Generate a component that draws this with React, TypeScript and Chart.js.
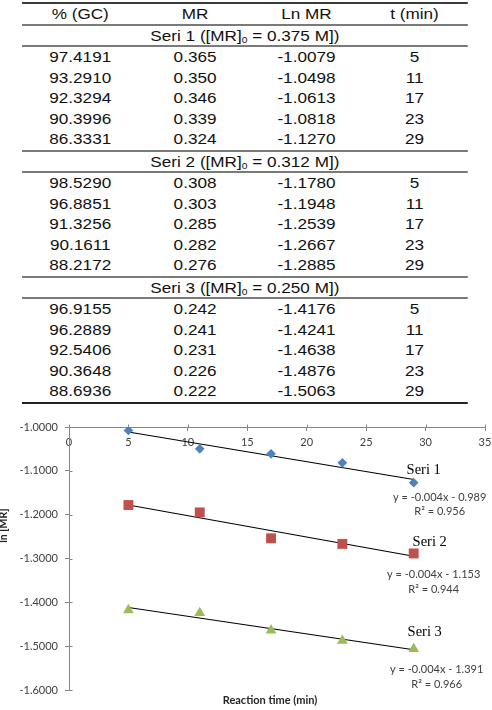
import React, { useEffect, useRef } from "react";
import { Chart, registerables } from "chart.js";

Chart.register(...registerables);

// Reaction times (min) shared by every series
const times = [5, 11, 17, 23, 29];

// Seri 1, [MR]0 = 0.375 M
const gc1 = [97.4191, 93.291, 92.3294, 90.3996, 86.3331];
const mr1 = [0.365, 0.35, 0.346, 0.339, 0.324];
const ln1 = [-1.0079, -1.0498, -1.0613, -1.0818, -1.127];

// Seri 2, [MR]0 = 0.312 M
const gc2 = [98.529, 96.8851, 91.3256, 90.1611, 88.2172];
const mr2 = [0.308, 0.303, 0.285, 0.282, 0.276];
const ln2 = [-1.178, -1.1948, -1.2539, -1.2667, -1.2885];

// Seri 3, [MR]0 = 0.250 M
const gc3 = [96.9155, 96.2889, 92.5406, 90.3648, 88.6936];
const mr3 = [0.242, 0.241, 0.231, 0.226, 0.222];
const ln3 = [-1.4176, -1.4241, -1.4638, -1.4876, -1.5063];

const seriesNames = ["Seri 1", "Seri 2", "Seri 3"];
const initialConc = ["0.375", "0.312", "0.250"];
const equationLabels = ["y = -0.004x - 0.989", "y = -0.004x - 1.153", "y = -0.004x - 1.391"];
const r2Labels = ["R\u00b2 = 0.956", "R\u00b2 = 0.944", "R\u00b2 = 0.966"];

const headers = ["% (GC)", "MR", "Ln MR", "t (min)"];
const yTicksMin = -1.6;
const yTicksMax = -1.0;
const xTicksMax = 35;

const gcSets = [gc1, gc2, gc3];
const mrSets = [mr1, mr2, mr3];
const lnSets = [ln1, ln2, ln3];

// marker styling per series
const markerStyles = [
  { pointStyle: "rectRot", radius: 4.8, color: "#4F81BD" },
  { pointStyle: "rect", radius: 7, color: "#C0504D" },
  { pointStyle: "triangle", radius: 6.2, color: "#9BBB59" },
];

// text offsets (px) from each series' last point: name, equation, R²
const noteOffsets = [
  { name: [10, -12.5], eq: [26, 14.5], r2: [26, 28.5] },
  { name: [16, -11], eq: [20, 21], r2: [20, 36] },
  { name: [11, -17], eq: [23, 21], r2: [23, 36] },
];

function linearFit(xs: number[], ys: number[]) {
  const n = xs.length;
  const mx = xs.reduce((a, b) => a + b, 0) / n;
  const my = ys.reduce((a, b) => a + b, 0) / n;
  let sxy = 0;
  let sxx = 0;
  for (let i = 0; i < n; i++) {
    sxy += (xs[i] - mx) * (ys[i] - my);
    sxx += (xs[i] - mx) * (xs[i] - mx);
  }
  const slope = sxy / sxx;
  return { slope, intercept: my - slope * mx };
}

const LABEL_FONT = "Lato, 'DejaVu Sans', sans-serif";

const notesPlugin = {
  id: "seriesNotes",
  afterDatasetsDraw(chart: any) {
    const { ctx, chartArea } = chart;
    const xs = chart.scales.x;
    const ys = chart.scales.y;
    ctx.save();

    // inner half of the cross tick marks
    ctx.strokeStyle = "#868686";
    ctx.lineWidth = 1;
    const axisY = Math.round(ys.getPixelForValue(yTicksMax)) + 0.5;
    xs.ticks.forEach((t: any) => {
      const px = Math.round(xs.getPixelForValue(t.value)) + 0.5;
      ctx.beginPath();
      ctx.moveTo(px, axisY - 3);
      ctx.lineTo(px, axisY);
      ctx.stroke();
    });
    const axisX = Math.round(chartArea.left) + 0.5;
    ys.ticks.forEach((t: any) => {
      const py = Math.round(ys.getPixelForValue(t.value)) + 0.5;
      ctx.beginPath();
      ctx.moveTo(axisX, py);
      ctx.lineTo(axisX + 3, py);
      ctx.stroke();
    });

    ctx.textAlign = "center";
    ctx.textBaseline = "middle";
    lnSets.forEach((vals, i) => {
      const last = vals.length - 1;
      const px = xs.getPixelForValue(times[last]);
      const py = ys.getPixelForValue(vals[last]);
      const off = noteOffsets[i];
      ctx.fillStyle = "#000";
      ctx.font = "14.5px 'Liberation Serif', 'Times New Roman', serif";
      ctx.fillText(seriesNames[i], px + off.name[0], py + off.name[1]);
      ctx.fillStyle = "#404040";
      ctx.font = `11px ${LABEL_FONT}`;
      ctx.fillText(equationLabels[i], px + off.eq[0], py + off.eq[1]);
      ctx.fillText(r2Labels[i], px + off.r2[0], py + off.r2[1]);
    });

    // axis titles
    ctx.fillStyle = "#262626";
    ctx.font = `bold 11px ${LABEL_FONT}`;
    ctx.fillText("Reaction time (min)", (chartArea.left + chartArea.right) / 2 - 7, chartArea.bottom + 10);
    ctx.translate(4, chartArea.top + (chartArea.bottom - chartArea.top) * 0.375);
    ctx.rotate(-Math.PI / 2);
    ctx.font = `bold 10.5px ${LABEL_FONT}`;
    ctx.fillText("ln [MR]", 0, 0);
    ctx.restore();
  },
};

function ChartPanel() {
  const ref = useRef<HTMLCanvasElement | null>(null);
  useEffect(() => {
    if (!ref.current) return;
    const datasets: any[] = [];
    lnSets.forEach((vals, i) => {
      const m = markerStyles[i];
      datasets.push({
        type: "scatter",
        label: seriesNames[i],
        data: times.map((t, k) => ({ x: t, y: vals[k] })),
        pointStyle: m.pointStyle,
        pointRadius: m.radius,
        pointBackgroundColor: m.color,
        pointBorderColor: m.color,
        pointBorderWidth: 0,
        order: 1,
      });
    });
    lnSets.forEach((vals, i) => {
      const fit = linearFit(times, vals);
      const x0 = times[0];
      const x1 = times[times.length - 1];
      datasets.push({
        type: "line",
        label: seriesNames[i] + " trend",
        data: [
          { x: x0, y: fit.slope * x0 + fit.intercept },
          { x: x1, y: fit.slope * x1 + fit.intercept },
        ],
        borderColor: "#000",
        borderWidth: 1.1,
        pointRadius: 0,
        fill: false,
        order: 2,
      });
    });

    const chart = new Chart(ref.current, {
      type: "scatter",
      data: { datasets },
      options: {
        responsive: false,
        animation: false,
        layout: { padding: { top: 23, bottom: 20, left: 0, right: 1 } },
        plugins: { legend: { display: false }, tooltip: { enabled: false } },
        scales: {
          x: {
            type: "linear",
            min: 0,
            max: xTicksMax,
            position: { y: yTicksMax },
            ticks: {
              stepSize: 5,
              padding: 6,
              color: "#404040",
              font: { family: LABEL_FONT, size: 11 },
              maxRotation: 0,
            },
            grid: { drawOnChartArea: false, tickLength: 3, color: "#868686" },
            border: { color: "#868686", width: 1 },
            // the last label may run past the canvas edge
            afterFit: (s: any) => {
              s.paddingLeft = 0;
              s.paddingRight = 0;
            },
          },
          y: {
            type: "linear",
            min: yTicksMin,
            max: yTicksMax,
            ticks: {
              stepSize: 0.1,
              padding: 7,
              color: "#404040",
              font: { family: LABEL_FONT, size: 11 },
              callback: (v: any) => Number(v).toFixed(4),
            },
            grid: { drawOnChartArea: false, tickLength: 4, color: "#868686" },
            border: { color: "#868686", width: 1 },
            afterFit: (s: any) => {
              s.width = 69;
            },
          },
        },
      } as any,
      plugins: [notesPlugin],
    });
    return () => chart.destroy();
  }, []);
  return (
    <canvas
      ref={ref}
      width={492}
      height={306}
      style={{ position: "absolute", left: 0, top: 404, width: 492, height: 306 }}
    />
  );
}

const TABLE_SCALE = 1.12;
const colWidths = [104, 101, 98, 95];
const ROW_H = 20.6;

function Rule({ color, h = 2 }: { color: string; h?: number }) {
  return <div style={{ height: h, background: color }} />;
}

function Row({ cells, height = ROW_H }: { cells: string[]; height?: number }) {
  return (
    <div style={{ display: "flex", height, lineHeight: `${height}px` }}>
      {cells.map((c, i) => (
        <div key={i} style={{ width: colWidths[i], textAlign: "center" }}>
          {c}
        </div>
      ))}
    </div>
  );
}

function GroupTitle({ idx }: { idx: number }) {
  return (
    <div style={{ height: 19, lineHeight: "19px", textAlign: "center" }}>
      {seriesNames[idx]} ([MR]
      <sub style={{ fontSize: "0.6em", verticalAlign: "-0.25em" }}>0</sub> = {initialConc[idx]} M])
    </div>
  );
}

function DataTable() {
  const width = colWidths.reduce((a, b) => a + b, 0);
  return (
    <div
      style={{
        position: "absolute",
        left: 22,
        top: 2,
        width,
        transform: `scaleX(${TABLE_SCALE})`,
        transformOrigin: "left top",
        fontFamily: "'Liberation Sans', Arial, sans-serif",
        fontSize: 15.3,
        color: "#111",
      }}
    >
      <Rule color="#3a3a3a" />
      <Row cells={headers} height={20} />
      {gcSets.map((gc, g) => (
        <React.Fragment key={g}>
          <Rule color="#7a7a7a" />
          <GroupTitle idx={g} />
          <Rule color="#7a7a7a" />
          {gc.map((v, k) => (
            <Row
              key={k}
              cells={[v.toFixed(4), mrSets[g][k].toFixed(3), lnSets[g][k].toFixed(4), String(times[k])]}
            />
          ))}
        </React.Fragment>
      ))}
      <Rule color="#222" />
    </div>
  );
}

export default function App() {
  return (
    <div
      style={{
        position: "absolute",
        left: 0,
        top: 0,
        width: 492,
        height: 710,
        background: "#fff",
        overflow: "hidden",
      }}
    >
      <DataTable />
      <ChartPanel />
    </div>
  );
}
